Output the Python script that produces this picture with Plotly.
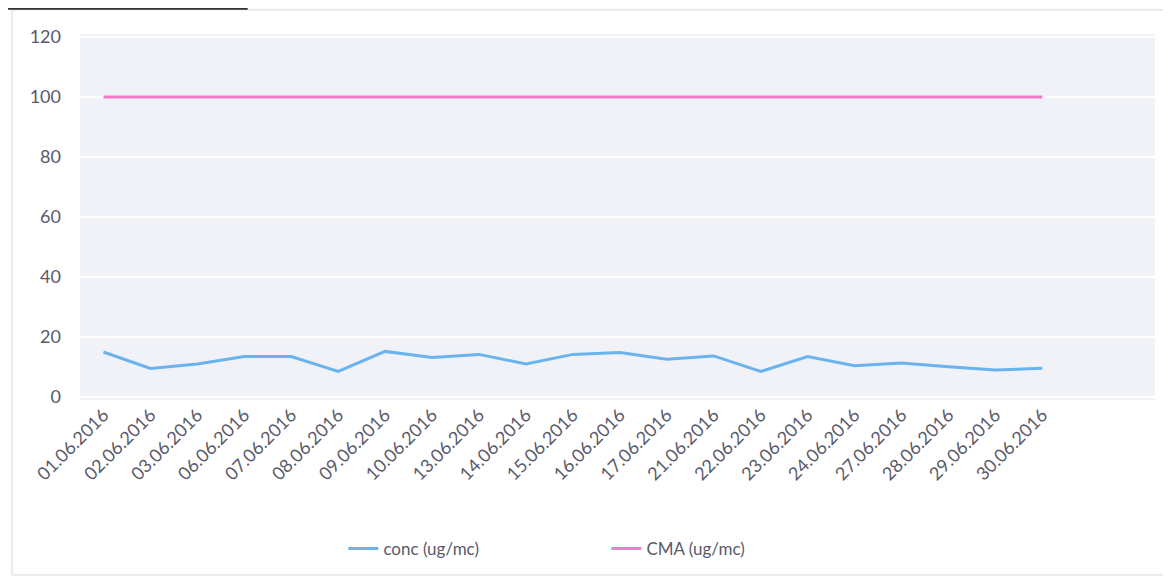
import plotly.graph_objects as go

dates = ["01.06.2016", "02.06.2016", "03.06.2016", "06.06.2016", "07.06.2016",
         "08.06.2016", "09.06.2016", "10.06.2016", "13.06.2016", "14.06.2016",
         "15.06.2016", "16.06.2016", "17.06.2016", "21.06.2016", "22.06.2016",
         "23.06.2016", "24.06.2016", "27.06.2016", "28.06.2016", "29.06.2016",
         "30.06.2016"]
conc = [15, 9.5, 11, 13.5, 13.5, 8.5, 15.2, 13.2, 14.2, 11, 14.2, 14.8, 12.6,
        13.7, 8.5, 13.5, 10.4, 11.3, 10.1, 9, 9.6]
cma = [100] * len(dates)
y_ticks = [0, 20, 40, 60, 80, 100, 120]

font_family = "Lato, 'Open Sans', sans-serif"
text_color = "#5a5a6a"

fig = go.Figure()
fig.add_trace(go.Scatter(x=list(range(len(dates))), y=conc, mode="lines",
                         name="conc (ug/mc)",
                         line=dict(color="#6ab4ee", width=3)))
fig.add_trace(go.Scatter(x=list(range(len(dates))), y=cma, mode="lines",
                         name="CMA (ug/mc)",
                         line=dict(color="#f27bcb", width=3)))

fig.update_layout(
    width=1163, height=573,
    paper_bgcolor="white",
    plot_bgcolor="#f1f1f8",
    margin=dict(l=72, r=16, t=26, b=181, autoexpand=False),
    font=dict(family=font_family, color=text_color, size=17),
    showlegend=True,
    legend=dict(orientation="h", x=0.245, xanchor="left", y=-0.358, yanchor="top",
                font=dict(size=17, color=text_color),
                tracegroupgap=0, entrywidth=218),
    xaxis=dict(
        tickmode="array",
        tickvals=list(range(len(dates))),
        ticktext=dates,
        range=[-0.5, 22.4],
        tickangle=-45,
        showgrid=False,
        zeroline=False,
        showline=False,
        ticks="",
        automargin=False,
        tickfont=dict(size=18, color=text_color),
    ),
    yaxis=dict(
        tickmode="array",
        tickvals=y_ticks,
        range=[-1, 121],
        showgrid=True,
        gridcolor="white",
        gridwidth=2,
        zeroline=False,
        showline=False,
        ticks="",
        automargin=False,
        ticklabelstandoff=18,
        tickfont=dict(size=18, color=text_color),
    ),
    shapes=[
        dict(type="rect", xref="paper", yref="paper", x0=-0.0633, x1=1.0093,
             y0=-0.478, y1=1.066, line=dict(color="#d8d8e0", width=1)),
        dict(type="line", xref="paper", yref="paper", x0=-0.067, x1=0.156,
             y0=1.069, y1=1.069, line=dict(color="#333333", width=2)),
    ],
)

fig.write_html("out.html")
